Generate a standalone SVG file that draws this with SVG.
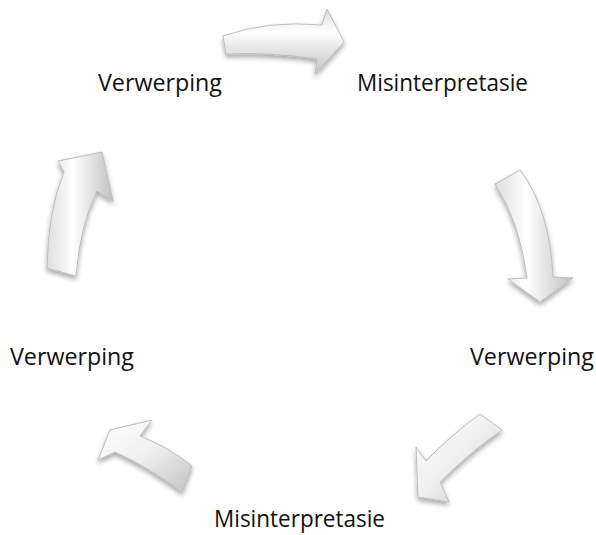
<svg xmlns="http://www.w3.org/2000/svg" width="596" height="535" viewBox="0 0 596 535">
<defs>
<style>
.lbl{font-family:"Open Sans","Liberation Sans",sans-serif;font-size:23px;fill:#111;}
.arr{stroke:#bdbdbd;stroke-width:1;filter:url(#sh);}
</style>
<filter id="sh" x="-30%" y="-30%" width="160%" height="160%">
<feGaussianBlur in="SourceAlpha" stdDeviation="2.5"/>
<feOffset dx="0" dy="3" result="b"/>
<feComponentTransfer><feFuncA type="linear" slope="0.35"/></feComponentTransfer>
<feMerge><feMergeNode/><feMergeNode in="SourceGraphic"/></feMerge>
</filter>
<linearGradient id="gV" x1="0" y1="0" x2="0" y2="1">
<stop offset="0" stop-color="#dcdcdc"/><stop offset="0.35" stop-color="#ffffff"/><stop offset="1" stop-color="#c2c2c2"/>
</linearGradient>
<linearGradient id="gH" x1="0" y1="0" x2="1" y2="0">
<stop offset="0" stop-color="#dedede"/><stop offset="0.4" stop-color="#ffffff"/><stop offset="1" stop-color="#c0c0c0"/>
</linearGradient>
<linearGradient id="gD" x1="0" y1="0" x2="1" y2="1">
<stop offset="0" stop-color="#ffffff"/><stop offset="0.5" stop-color="#efefef"/><stop offset="1" stop-color="#c2c2c2"/>
</linearGradient>
</defs>
<g id="connectors">
<path id="arrow-top" class="arr" fill="url(#gV)" d="M223,36 Q268,20 322,25 L327,9 L344,42 L315,74 L317,59 Q270,52 226,54 Z"/>
<path id="arrow-right" class="arr" fill="url(#gH)" d="M495,184 L520,170 Q550,210 553,277 L573,278 L540,302 L508,279 L527,278 Q520,222 495,184 Z"/>
<path id="arrow-bottom-right" class="arr" fill="url(#gD)" d="M480,414 Q450,436 426,461 L416,447 L418,497 L449,502 L440,482 Q470,452 502,430 Z"/>
<path id="arrow-bottom-left" class="arr" fill="url(#gD)" d="M110,430 L152,420 L140,436 Q170,448 192,466 L182,492 Q150,468 115,452 L98,460 Z"/>
<path id="arrow-left" class="arr" fill="url(#gH)" d="M47,268 Q48,210 64,172 L58,161 L102,152 L113,201 L97,191 Q80,225 76,276 Z"/>
</g>
<g id="node-top-left"><text class="lbl" x="98" y="91" textLength="124" lengthAdjust="spacingAndGlyphs">Verwerping</text></g>
<g id="node-top-right"><text class="lbl" x="357" y="91" textLength="171" lengthAdjust="spacingAndGlyphs">Misinterpretasie</text></g>
<g id="node-left"><text class="lbl" x="10" y="365" textLength="124" lengthAdjust="spacingAndGlyphs">Verwerping</text></g>
<g id="node-right"><text class="lbl" x="470" y="365" textLength="124" lengthAdjust="spacingAndGlyphs">Verwerping</text></g>
<g id="node-bottom"><text class="lbl" x="214" y="527" textLength="171" lengthAdjust="spacingAndGlyphs">Misinterpretasie</text></g>
</svg>
